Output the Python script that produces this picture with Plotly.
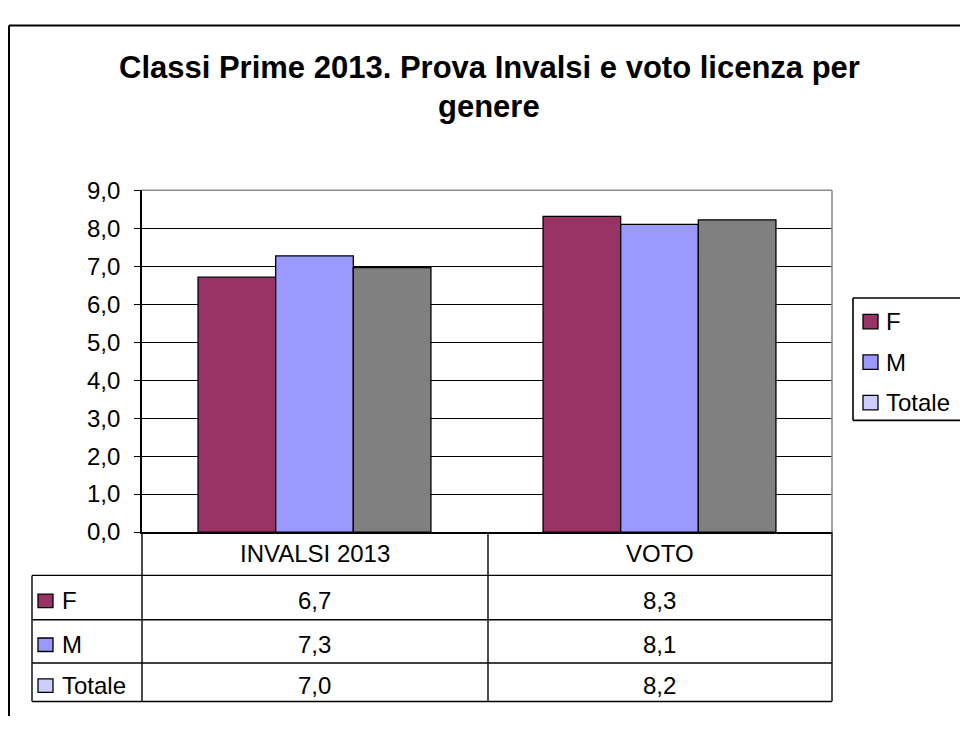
import plotly.graph_objects as go

# ---- data ----
categories = ["INVALSI 2013", "VOTO"]
series_names = ["F", "M", "Totale"]
values_F = [6.71, 8.31]
values_M = [7.27, 8.10]
values_Totale = [6.96, 8.22]
y_ticks = [0, 1, 2, 3, 4, 5, 6, 7, 8, 9]
title_lines = ["Classi Prime 2013. Prova Invalsi e voto licenza per", "genere"]

bar_colors = ["#993366", "#9999FF", "#808080"]
key_colors = ["#993366", "#9999FF", "#CCCCFF"]  # swatches in legend / table
series_values = [values_F, values_M, values_Totale]

W, H = 960, 729
FONT = "Liberation Sans, Arial, sans-serif"
FS = 24


def px(x):
    return x / W


def py(y):
    return 1 - y / H


def fmt(v):
    return f"{v:.1f}".replace(".", ",")


fig = go.Figure()
for name, vals, col in zip(series_names, series_values, bar_colors):
    fig.add_trace(go.Bar(
        x=categories, y=vals, name=name,
        marker=dict(color=col, line=dict(color="black", width=1.3)),
        showlegend=False, hoverinfo="x+y+name",
    ))

# plot area pixels
PL, PR, PT, PB = 142, 832, 183, 538

shapes = []
annotations = []


def line(x0, y0, x1, y1, color="black", width=1.4):
    shapes.append(dict(type="line", xref="paper", yref="paper",
                       x0=px(x0), y0=py(y0), x1=px(x1), y1=py(y1),
                       line=dict(color=color, width=width)))


# outer frame (only left and top edges are inside the picture)
line(9, 12, 9, H, width=2)
line(9, 12, W, 12, width=2)
# plot area border (top / right gray)
line(PL, PT, PR, PT, color="#8c8c8c", width=1.6)
line(PR, PT, PR, PB, color="#8c8c8c", width=1.6)

# data table
row_edges = [PB, 583, 629, 674, 714]
col_edges = [PL, 488, PR]
for yy in row_edges[1:]:
    line(32, yy, PR, yy)
line(32, row_edges[1], 32, row_edges[-1])
for xx in col_edges:
    line(xx, PB, xx, row_edges[-1])

# header labels
for c in categories:
    annotations.append(dict(x=c, xref="x", y=py((row_edges[0] + row_edges[1]) / 2),
                            yref="paper", text=c, showarrow=False,
                            font=dict(family=FONT, size=FS, color="black"),
                            xanchor="center", yanchor="middle"))
# value rows
for i, (name, vals, kc) in enumerate(zip(series_names, series_values, key_colors)):
    ymid = (row_edges[i + 1] + row_edges[i + 2]) / 2 + 3.5
    for c, v in zip(categories, vals):
        annotations.append(dict(x=c, xref="x", y=py(ymid), yref="paper",
                                text=fmt(v), showarrow=False,
                                font=dict(family=FONT, size=FS, color="black"),
                                xanchor="center", yanchor="middle"))
    shapes.append(dict(type="rect", xref="paper", yref="paper",
                       x0=px(38), x1=px(53), y0=py(ymid + 7), y1=py(ymid - 7),
                       fillcolor=kc, line=dict(color="black", width=1.3)))
    annotations.append(dict(x=px(60), xref="paper", y=py(ymid), yref="paper",
                            text=name, showarrow=False,
                            font=dict(family=FONT, size=FS, color="black"),
                            xanchor="left", yanchor="middle"))

# legend box (right edge falls outside the picture)
line(853, 295, W, 295, width=1.6)
line(853, 422, W, 422, width=1.6)
line(853, 295, 853, 422, width=1.6)
for name, kc, yc in zip(series_names, key_colors, [319.5, 361.5, 403.5]):
    shapes.append(dict(type="rect", xref="paper", yref="paper",
                       x0=px(863), x1=px(878), y0=py(yc + 7.5), y1=py(yc - 7.5),
                       fillcolor=kc, line=dict(color="black", width=1.3)))
    annotations.append(dict(x=px(884), xref="paper", y=py(yc), yref="paper",
                            text=name, showarrow=False,
                            font=dict(family=FONT, size=FS, color="black"),
                            xanchor="left", yanchor="middle"))

# title
for txt, yc in zip(title_lines, [56, 96]):
    annotations.append(dict(x=px(489), xref="paper", y=py(yc), yref="paper",
                            text=f"<b>{txt}</b>", showarrow=False,
                            font=dict(family=FONT, size=31, color="black"),
                            xanchor="center", yanchor="middle"))

fig.update_layout(
    width=W, height=H, autosize=False,
    margin=dict(l=0, r=0, t=0, b=0),
    paper_bgcolor="white", plot_bgcolor="white",
    separators=",.",
    barmode="group", bargap=0.325, bargroupgap=0,
    font=dict(family=FONT, size=FS, color="black"),
    xaxis=dict(domain=[px(PL), px(PR)], range=[-0.5, 1.5], showticklabels=False,
               ticks="", showgrid=False, zeroline=False,
               showline=True, linecolor="black", linewidth=1.6),
    yaxis=dict(domain=[py(PB), py(PT)], range=[0, 9], tickvals=y_ticks,
               tickformat=".1f", ticks="outside", ticklen=6, tickcolor="black",
               tickwidth=1.4, showline=True, linecolor="black", linewidth=1.6,
               showgrid=True, gridcolor="black", gridwidth=1.3, zeroline=False,
               ticklabelstandoff=9,
               tickfont=dict(family=FONT, size=FS, color="black")),
    shapes=shapes, annotations=annotations,
    showlegend=False,
)

fig.write_html("out.html", config={"displayModeBar": False},
               post_script="document.body.style.margin='0';document.body.style.overflow='hidden';")
